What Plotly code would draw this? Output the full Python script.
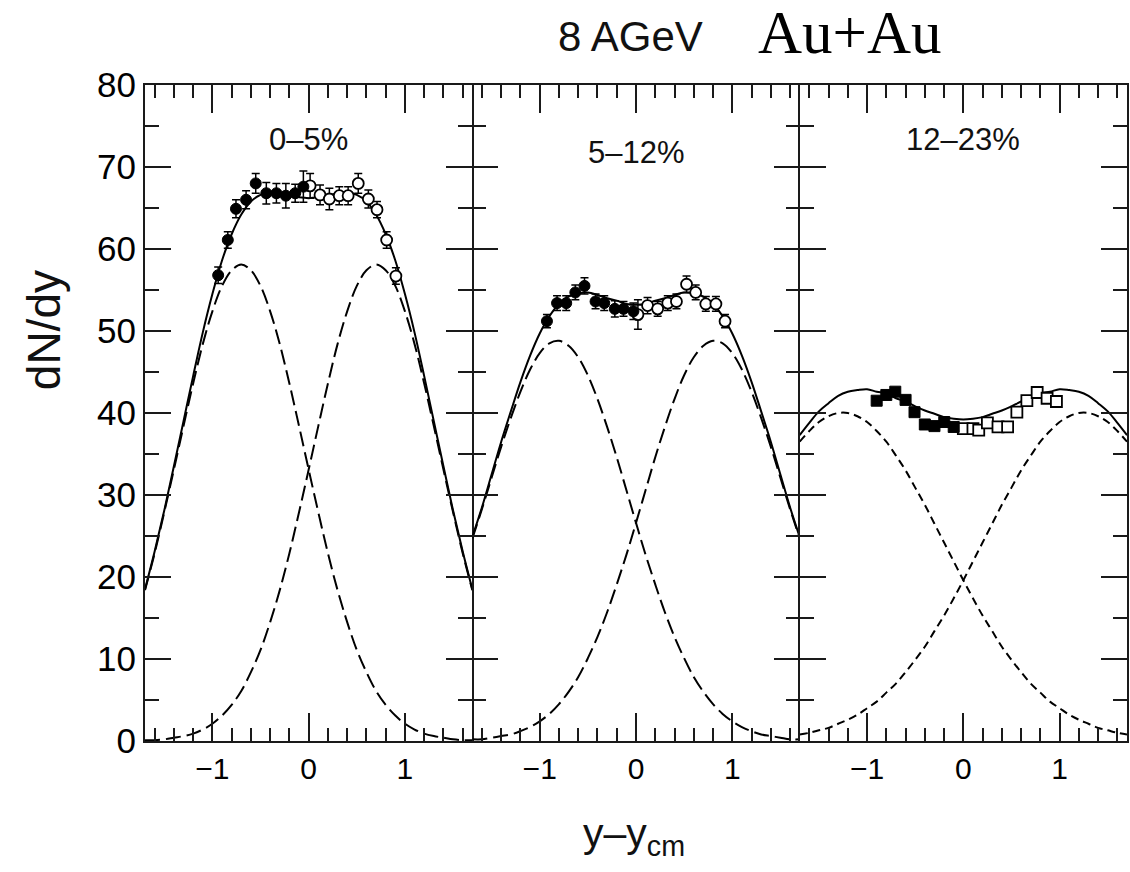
import plotly.graph_objects as go
from plotly.subplots import make_subplots

# ---------------- data ----------------
panel_labels = ["0–5%", "5–12%", "12–23%"]

curve_x = [-1.7, -1.6, -1.5, -1.4, -1.3, -1.2, -1.1, -1.0, -0.9, -0.8, -0.7, -0.6,
           -0.5, -0.4, -0.3, -0.2, -0.1, 0.0, 0.1, 0.2, 0.3, 0.4, 0.5, 0.6, 0.7,
           0.8, 0.9, 1.0, 1.1, 1.2, 1.3, 1.4, 1.5, 1.6, 1.7]

# panel 1 (0-5%)
left1 = [18.4, 22.9, 27.9, 33.1, 38.4, 43.6, 48.4, 52.4, 55.5, 57.4, 58.1, 57.4,
         55.5, 52.4, 48.4, 43.6, 38.4, 33.1, 27.9, 22.9, 18.4, 14.5, 11.1, 8.4, 6.1,
         4.4, 3.1, 2.1, 1.4, 0.9, 0.6, 0.4, 0.2, 0.1, 0.1]
right1 = [0.1, 0.1, 0.2, 0.4, 0.6, 0.9, 1.4, 2.1, 3.1, 4.4, 6.1, 8.4, 11.1, 14.5,
          18.4, 22.9, 27.9, 33.1, 38.4, 43.6, 48.4, 52.4, 55.5, 57.4, 58.1, 57.4,
          55.5, 52.4, 48.4, 43.6, 38.4, 33.1, 27.9, 22.9, 18.4]
total1 = [18.5, 23.1, 28.1, 33.5, 39.0, 44.5, 49.8, 54.5, 58.6, 61.8, 64.2, 65.8,
          66.6, 66.9, 66.8, 66.5, 66.3, 66.2, 66.3, 66.5, 66.8, 66.9, 66.6, 65.8,
          64.2, 61.8, 58.6, 54.5, 49.8, 44.5, 39.0, 33.5, 28.1, 23.1, 18.5]
meas1_x = [-0.94, -0.84, -0.755, -0.65, -0.55, -0.44, -0.335, -0.237, -0.14, -0.055]
meas1_y = [56.8, 61.1, 64.9, 66.0, 68.0, 66.8, 66.8, 66.5, 66.8, 67.6]
meas1_e = [1.0, 1.0, 1.1, 1.1, 1.2, 1.3, 1.2, 1.5, 1.1, 1.9]
refl1_x = [0.015, 0.118, 0.215, 0.318, 0.41, 0.515, 0.62, 0.71, 0.81, 0.906]
refl1_y = [67.7, 66.6, 66.1, 66.5, 66.5, 68.0, 66.1, 64.8, 61.1, 56.7]
refl1_e = [1.5, 1.2, 1.3, 1.1, 1.1, 1.2, 1.1, 1.0, 1.0, 1.0]

# panel 2 (5-12%)
left2 = [24.7, 28.3, 32.1, 35.9, 39.4, 42.6, 45.3, 47.3, 48.5, 48.8, 48.2, 46.8,
         44.6, 41.7, 38.3, 34.6, 30.6, 26.6, 22.7, 19.1, 15.7, 12.7, 10.1, 7.8, 6.0,
         4.5, 3.3, 2.4, 1.7, 1.2, 0.8, 0.6, 0.4, 0.2, 0.2]
right2 = [0.2, 0.2, 0.4, 0.6, 0.8, 1.2, 1.7, 2.4, 3.3, 4.5, 6.0, 7.8, 10.1, 12.7,
          15.7, 19.1, 22.7, 26.6, 30.6, 34.6, 38.3, 41.7, 44.6, 46.8, 48.2, 48.8,
          48.5, 47.3, 45.3, 42.6, 39.4, 35.9, 32.1, 28.3, 24.7]
total2 = [24.9, 28.5, 32.5, 36.5, 40.2, 43.8, 47.0, 49.7, 51.8, 53.3, 54.2, 54.6,
          54.7, 54.4, 54.0, 53.7, 53.3, 53.2, 53.3, 53.7, 54.0, 54.4, 54.7, 54.6,
          54.2, 53.3, 51.8, 49.7, 47.0, 43.8, 40.2, 36.5, 32.5, 28.5, 24.9]
meas2_x = [-0.925, -0.82, -0.725, -0.63, -0.535, -0.42, -0.33, -0.22, -0.13, -0.027]
meas2_y = [51.2, 53.4, 53.4, 54.7, 55.5, 53.6, 53.4, 52.7, 52.7, 52.4]
meas2_e = [0.8, 0.9, 0.9, 0.9, 1.0, 0.9, 0.9, 1.0, 0.9, 1.0]
refl2_x = [0.02, 0.12, 0.225, 0.33, 0.42, 0.525, 0.62, 0.725, 0.83, 0.925]
refl2_y = [52.0, 53.1, 52.7, 53.4, 53.6, 55.7, 54.7, 53.3, 53.3, 51.2]
refl2_e = [1.8, 1.0, 0.9, 0.9, 0.9, 1.0, 0.9, 0.9, 0.9, 0.8]

# panel 3 (12-23%)
left3 = [36.5, 37.8, 38.9, 39.6, 40.0, 40.0, 39.6, 38.9, 37.8, 36.5, 34.8, 33.0,
         30.9, 28.8, 26.5, 24.2, 21.9, 19.6, 17.4, 15.3, 13.4, 11.5, 9.9, 8.4, 7.0,
         5.9, 4.8, 4.0, 3.2, 2.6, 2.1, 1.6, 1.3, 1.0, 0.8]
right3 = [0.8, 1.0, 1.3, 1.6, 2.1, 2.6, 3.2, 4.0, 4.8, 5.9, 7.0, 8.4, 9.9, 11.5,
          13.4, 15.3, 17.4, 19.6, 21.9, 24.2, 26.5, 28.8, 30.9, 33.0, 34.8, 36.5,
          37.8, 38.9, 39.6, 40.0, 40.0, 39.6, 38.9, 37.8, 36.5]
total3 = [37.3, 38.8, 40.2, 41.2, 42.1, 42.6, 42.8, 42.9, 42.6, 42.4, 41.8, 41.4,
          40.8, 40.3, 39.9, 39.5, 39.3, 39.2, 39.3, 39.5, 39.9, 40.3, 40.8, 41.4,
          41.8, 42.4, 42.6, 42.9, 42.8, 42.6, 42.1, 41.2, 40.2, 38.8, 37.3]
meas3_x = [-0.90, -0.80, -0.707, -0.60, -0.507, -0.40, -0.30, -0.198, -0.10]
meas3_y = [41.5, 42.2, 42.6, 41.6, 40.1, 38.6, 38.4, 38.9, 38.3]
meas3_e = [0.4, 0.4, 0.4, 0.4, 0.4, 0.4, 0.4, 0.4, 0.4]
refl3_x = [0.0, 0.10, 0.16, 0.25, 0.36, 0.46, 0.556, 0.66, 0.767, 0.87, 0.967]
refl3_y = [38.1, 38.1, 37.9, 38.8, 38.3, 38.3, 40.1, 41.5, 42.5, 41.8, 41.4]
refl3_e = [0.5, 0.4, 0.4, 0.4, 0.4, 0.4, 0.4, 0.4, 0.4, 0.4, 0.4]

# ---------------- figure ----------------
W, H = 1130, 872
ML, MR, MT, MB = 145, 1, 85, 131
fig = make_subplots(rows=1, cols=3, shared_yaxes=True, horizontal_spacing=0)

panels = [
    (left1, right1, total1, meas1_x, meas1_y, meas1_e, refl1_x, refl1_y, refl1_e, "circle", "15px,6px", 11),
    (left2, right2, total2, meas2_x, meas2_y, meas2_e, refl2_x, refl2_y, refl2_e, "circle", "15px,6px", 11),
    (left3, right3, total3, meas3_x, meas3_y, meas3_e, refl3_x, refl3_y, refl3_e, "square", "8px,5px", 11),
]

for i, (lc, rc, tc, mx, my, me, rx, ry, re, sym, dash, msz) in enumerate(panels):
    col = i + 1
    for comp in (lc, rc):
        fig.add_trace(go.Scatter(x=curve_x, y=comp, mode="lines", line_shape="spline",
                                 line=dict(color="black", width=2, dash=dash),
                                 showlegend=False, hoverinfo="skip"), row=1, col=col)
    fig.add_trace(go.Scatter(x=curve_x, y=tc, mode="lines", line_shape="spline",
                             line=dict(color="black", width=2),
                             showlegend=False), row=1, col=col)
    fig.add_trace(go.Scatter(x=rx, y=ry, mode="markers",
                             error_y=dict(type="data", array=re, color="black", thickness=1.5, width=4),
                             marker=dict(symbol=sym, size=msz, color="white",
                                         line=dict(color="black", width=1.8)),
                             showlegend=False), row=1, col=col)
    fig.add_trace(go.Scatter(x=mx, y=my, mode="markers",
                             error_y=dict(type="data", array=me, color="black", thickness=1.5, width=4),
                             marker=dict(symbol=sym, size=msz, color="black",
                                         line=dict(color="black", width=1)),
                             showlegend=False), row=1, col=col)

LC = "#1a1a1a"
for c in range(1, 4):
    fig.update_xaxes(range=[-1.7, 1.7], tickmode="linear", tick0=0, dtick=1,
                     showline=True, linecolor=LC, linewidth=2, mirror="allticks",
                     ticks="inside", ticklen=28, tickwidth=2, tickcolor=LC,
                     minor=dict(dtick=0.2, tick0=0, ticklen=13, ticks="inside",
                                tickcolor=LC, tickwidth=1.5, showgrid=False),
                     showgrid=False, zeroline=False,
                     tickfont=dict(family="Liberation Sans, Arial", size=30, color="black"),
                     row=1, col=c)
    fig.update_yaxes(range=[0, 80], tickmode="linear", tick0=0, dtick=10,
                     showline=(c != 2), linecolor=LC, linewidth=2, mirror="allticks",
                     ticks="inside", ticklen=26, tickwidth=2, tickcolor=LC,
                     minor=dict(dtick=5, tick0=0, ticklen=14, ticks="inside",
                                tickcolor=LC, tickwidth=1.5, showgrid=False),
                     showgrid=False, zeroline=False,
                     tickfont=dict(family="Liberation Sans, Arial", size=35, color="black"),
                     row=1, col=c)

pw = W - ML - MR
ph = H - MT - MB
def px(xp):
    return (xp - ML) / pw
def py(yp):
    return (H - MB - yp) / ph

annots = [
    dict(text="8 AGeV", x=px(631), y=py(37), font=dict(family="Liberation Sans, Arial", size=42, color="#111")),
    dict(text="Au+Au", x=px(851), y=py(33), font=dict(family="Liberation Serif, Times New Roman", size=61, color="black")),
    dict(text="dN/dy", x=px(44), y=py(330), textangle=-90, font=dict(family="Liberation Sans, Arial", size=46, color="#111")),
    dict(text="y–y<sub>cm</sub>", x=px(635), y=py(836), font=dict(family="Liberation Sans, Arial", size=41, color="#111")),
]
for a in annots:
    fig.add_annotation(xref="paper", yref="paper", showarrow=False,
                       xanchor="center", yanchor="middle", **a)

label_y = [73.3, 71.8, 73.3]
for i, lab in enumerate(panel_labels):
    fig.add_annotation(xref=f"x{'' if i == 0 else i + 1}", yref="y", x=0, y=label_y[i],
                       text=lab, showarrow=False, xanchor="center", yanchor="middle",
                       font=dict(family="Liberation Sans, Arial", size=31, color="#111"))

fig.update_layout(width=W, height=H, margin=dict(l=ML, r=MR, t=MT, b=MB),
                  plot_bgcolor="white", paper_bgcolor="white", showlegend=False)

fig.write_html("out.html")
